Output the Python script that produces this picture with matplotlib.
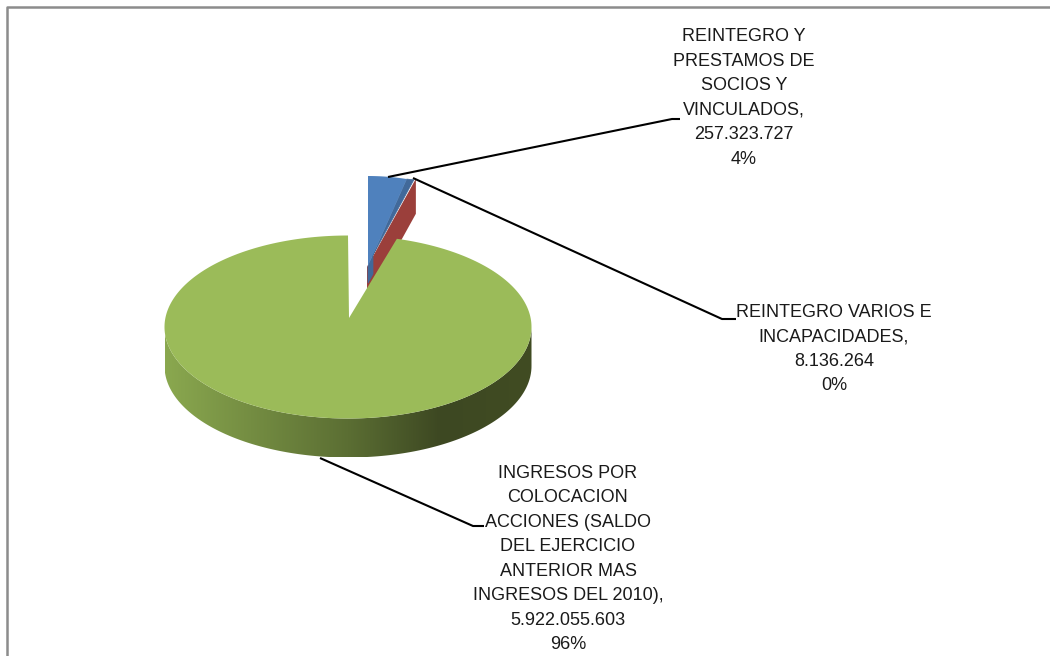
import numpy as np
import matplotlib
matplotlib.use("Agg")
import matplotlib.pyplot as plt
from matplotlib.colors import LinearSegmentedColormap
from matplotlib.patches import Polygon

# chart values
labels = [
    "REINTEGRO Y\nPRESTAMOS DE\nSOCIOS Y\nVINCULADOS,\n257.323.727\n4%",
    "REINTEGRO VARIOS E\nINCAPACIDADES,\n8.136.264\n0%",
    "INGRESOS POR\nCOLOCACION\nACCIONES (SALDO\nDEL EJERCICIO\nANTERIOR MAS\nINGRESOS DEL 2010),\n5.922.055.603\n96%",
]
values = [257323727, 8136264, 5922055603]
slice_colors = ["#4f81bd", "#9b3f3b", "#9bbb59"]

label_xy = [(744, 98), (834, 349), (568, 559)]
leader_lines = [
    [(388, 177), (672, 119), (680, 119)],
    [(413, 178), (722, 319), (736, 319)],
    [(320, 458), (473, 526), (484, 526)],
]

# pie geometry in pixels
CX, CY = 348, 327
RX, RY = 183.5, 91.5
DEPTH = 39
APEX = (349, 318)
BLUE_APEX = (368, 266)
BLUE_RX, BLUE_RY = 150, 90
RED_APEX = (367, 267)


def rim(angle, cx=CX, cy=CY, rx=RX, ry=RY):
    # angle in radians, clockwise from 12 o'clock
    return np.column_stack([cx + rx * np.sin(angle), cy - ry * np.cos(angle)])


shares = np.array(values) / sum(values)
edges = np.concatenate([[0], np.cumsum(shares)]) * 2 * np.pi

fig = plt.figure(figsize=(10.5, 6.56), dpi=100)
ax = fig.add_axes([0, 0, 1, 1])
ax.set_xlim(0, 1050)
ax.set_ylim(656, 0)
ax.axis("off")

# outer frame, cut by the bottom and right of the image
ax.plot([7, 7, 1050], [656, 7, 7], color="#8c8c8c", lw=1.8, zorder=1)

# green side wall with its left to right shading
wall_angle = np.linspace(np.pi / 2, 3 * np.pi / 2, 200)
top_rim = rim(wall_angle)
bottom_rim = top_rim + [0, DEPTH]
wall = Polygon(np.vstack([top_rim, bottom_rim[::-1]]), closed=True, fc="none", ec="none", zorder=2)
ax.add_patch(wall)
wall_cmap = LinearSegmentedColormap.from_list(
    "wall", [(0, "#8aa84f"), (0.5, "#5b6e33"), (0.75, "#3d4822"), (1, "#414c23")]
)
gradient = ax.imshow(
    np.linspace(0, 1, 256)[None, :],
    cmap=wall_cmap,
    extent=(CX - RX, CX + RX, CY + RY + DEPTH, CY - 5),
    aspect="auto",
    zorder=2,
)
gradient.set_clip_path(wall)
ax.set_xlim(0, 1050)
ax.set_ylim(656, 0)

# red slice: only its cut face shows
red_corner = rim(edges[2], RED_APEX[0], RED_APEX[1])[0]
red_face = [red_corner, red_corner + [0, DEPTH - 4], np.array(RED_APEX) + [0, DEPTH - 4], RED_APEX]
ax.add_patch(Polygon(red_face, closed=True, fc=slice_colors[1], ec="none", zorder=3))

# blue slice: face plus the darker cut side
blue_angle = np.linspace(edges[0], edges[1], 20)
blue_rim = rim(blue_angle, BLUE_APEX[0], BLUE_APEX[1], BLUE_RX, BLUE_RY)
blue_side = [
    BLUE_APEX,
    blue_rim[-1],
    red_corner + [-2, 1],
    np.array(RED_APEX) + [6, -12],
    np.array(RED_APEX) + [6, 7],
    np.array(BLUE_APEX) + [0, 17],
]
ax.add_patch(Polygon(blue_side, closed=True, fc="#41699a", ec="#41699a", lw=0.5, zorder=4))
ax.add_patch(Polygon(np.vstack([[BLUE_APEX], blue_rim]), closed=True, fc=slice_colors[0], ec="none", zorder=5))

# green top face
green_angle = np.linspace(edges[2], edges[3], 300)
green_rim = rim(green_angle)
ax.add_patch(Polygon(np.vstack([[APEX], green_rim]), closed=True, fc=slice_colors[2], ec="none", zorder=6))

# leader lines and labels
for pts, txt, xy in zip(leader_lines, labels, label_xy):
    xs, ys = zip(*pts)
    ax.plot(xs, ys, color="black", lw=1.5, zorder=7, solid_capstyle="butt")
    ax.text(xy[0], xy[1], txt, ha="center", va="center", family="Liberation Sans",
            fontsize=13, linespacing=1.57, color="#1a1a1a", zorder=8)

fig.savefig("out.png", dpi=100)
